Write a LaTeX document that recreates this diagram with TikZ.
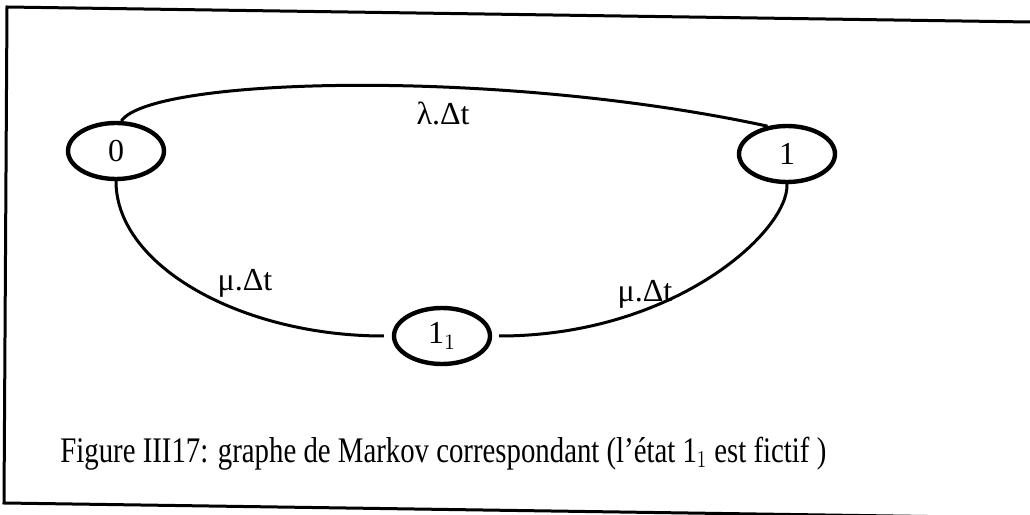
\documentclass[tikz,border=0pt]{standalone}
\usepackage{fontspec}
\setmainfont{Liberation Serif}
\usetikzlibrary{shapes.geometric}

\begin{document}
\begin{tikzpicture}[x=0.5pt,y=0.5pt,
  etat/.style={ellipse,draw,line width=2.2pt,minimum width=48pt,minimum height=28pt,
    inner sep=0pt,font=\fontsize{16}{18}\selectfont},
  trans/.style={draw,line width=1.5pt},
  lab/.style={font=\fontsize{16}{18}\selectfont,inner sep=0pt}
]
  \useasboundingbox (0,0) rectangle (1030,515);
  % cadre (un peu penche)
  \draw[line width=1.5pt] (1030,493) -- (7,508) -- (4,12) -- (1030,-3);
  \node[etat] (e0) at (116,364) {0};
  \node[etat] (e1) at (787,361) {1};
  \node[etat] (e11) at (442,179) {1$_1$};
  \draw[trans] (e0.80) .. controls +(30,44) and +(-268,58) .. (e1.125);
  \draw[trans,shorten >=4pt] (e0.south) .. controls +(0,-85) and +(-150,0) .. (e11.west);
  \draw[trans,shorten <=3.5pt] (e11.east) .. controls +(182,0) and +(2,-47) .. (e1.south);
  \node[lab] (l01) at (443,402) {λ.Δt};
  \node[lab] (m0) at (245,232) {μ.Δt};
  \node[lab] (m1) at (645,221) {μ.Δt};
  \node[anchor=base west,inner sep=0pt,font=\fontsize{18}{21}\selectfont] (cap) at (60,53)
    {\scalebox{0.8}[1]{Figure III17: graphe de Markov correspondant (l’état 1$_1$ est fictif )}};
\end{tikzpicture}
\end{document}
